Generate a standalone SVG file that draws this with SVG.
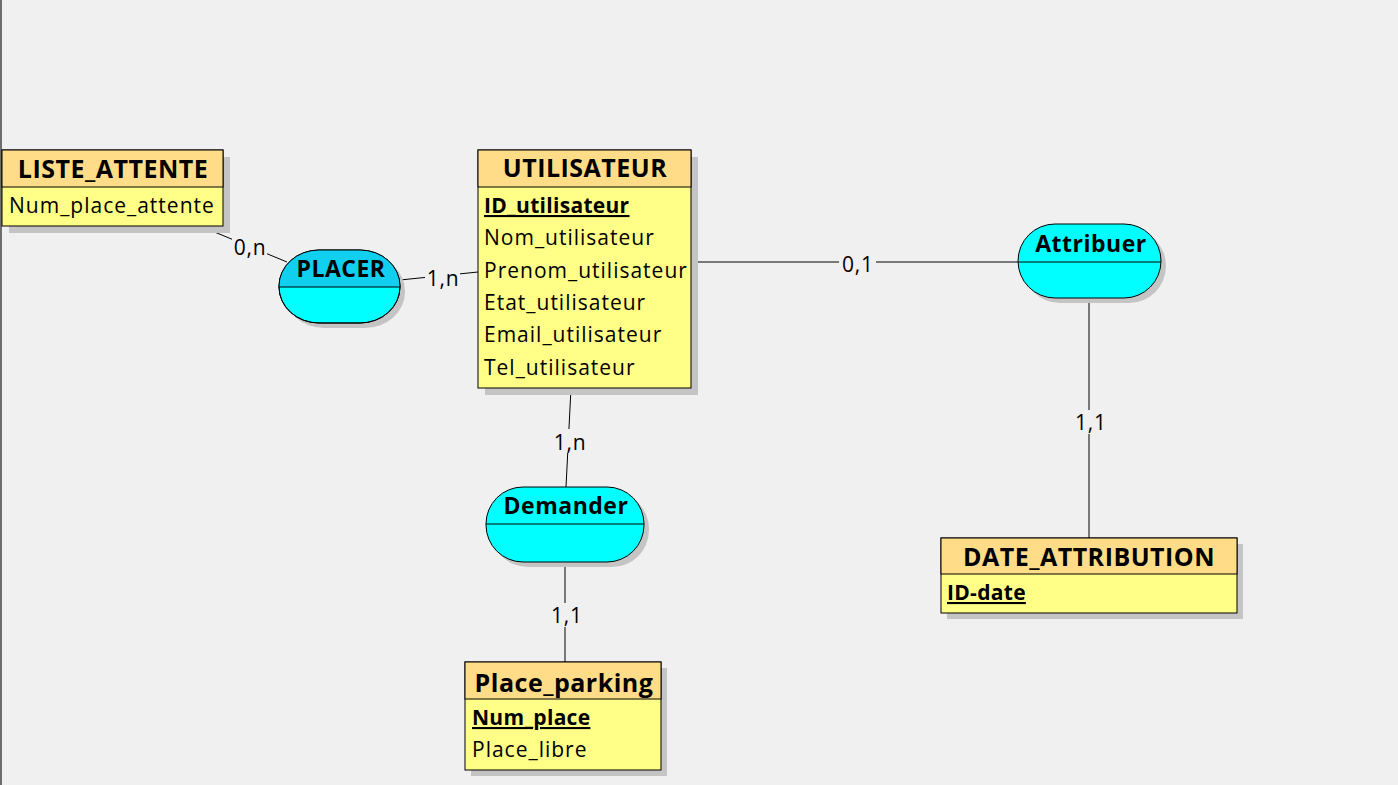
<svg xmlns="http://www.w3.org/2000/svg" width="1398" height="785" viewBox="0 0 1398 785">
<defs>
<style>
.bg{fill:#F0F0F0}
.shadow{fill:#C4C4C4}
.hdr{fill:#FFDD88;stroke:#000;stroke-width:1}
.body{fill:#FFFF88;stroke:#000;stroke-width:1}
.rel{fill:#00FFFF;stroke:#000;stroke-width:1}
.div{stroke:#000;stroke-width:1}
.conn{stroke:#000;stroke-width:1;fill:none}
.title{font-family:"Open Sans","Noto Sans","Liberation Sans",sans-serif;font-weight:bold;font-size:25px;letter-spacing:0.5px;fill:#000;text-anchor:middle}
.rtitle{font-family:"Open Sans","Noto Sans","Liberation Sans",sans-serif;font-weight:bold;font-size:23px;letter-spacing:0.5px;fill:#000;text-anchor:middle}
.attr{font-family:"Open Sans","Noto Sans","Liberation Sans",sans-serif;font-size:21px;letter-spacing:1px;fill:#000}
.key{font-family:"Open Sans","Noto Sans","Liberation Sans",sans-serif;font-size:21px;letter-spacing:0.3px;font-weight:bold;fill:#000;text-decoration:underline}
.card{font-family:"Open Sans","Noto Sans","Liberation Sans",sans-serif;font-size:21px;letter-spacing:0.8px;fill:#000;text-anchor:middle}
.lblbg{fill:#F0F0F0}
</style>
<clipPath id="placerTop"><rect x="270" y="240" width="140" height="47"/></clipPath>
</defs>
<rect class="bg" x="0" y="0" width="1398" height="785"/>
<rect x="0" y="0" width="2" height="785" fill="#6E6E6E"/>

<g id="connectors">
<line class="conn" x1="200" y1="226" x2="287" y2="262"/>
<rect class="lblbg" x="232" y="237" width="35" height="20"/>
<text class="card" x="250" y="255">0,n</text>
<line class="conn" x1="400" y1="280" x2="478" y2="272"/>
<rect class="lblbg" x="425" y="267" width="35" height="21"/>
<text class="card" x="443" y="286">1,n</text>
<line class="conn" x1="691" y1="262" x2="1018" y2="262"/>
<rect class="lblbg" x="839" y="254" width="37" height="20"/>
<text class="card" x="858" y="272">0,1</text>
<line class="conn" x1="571" y1="388" x2="566" y2="487"/>
<rect class="lblbg" x="551" y="429" width="37" height="24"/>
<text class="card" x="570" y="450">1,n</text>
<line class="conn" x1="565" y1="562" x2="565" y2="662"/>
<rect class="lblbg" x="547" y="603" width="38" height="24"/>
<text class="card" x="567" y="623">1,1</text>
<line class="conn" x1="1089" y1="298" x2="1089" y2="538"/>
<rect class="lblbg" x="1071" y="410" width="38" height="24"/>
<text class="card" x="1091" y="430">1,1</text>
</g>

<g id="LISTE_ATTENTE">
<rect class="shadow" x="9" y="157" width="221" height="76"/>
<rect class="body" x="2" y="150" width="221" height="76"/>
<rect class="hdr" x="2" y="150" width="221" height="37"/>
<text class="title" x="113" y="178">LISTE_ATTENTE</text>
<text class="attr" x="9" y="213">Num_place_attente</text>
</g>

<g id="UTILISATEUR">
<rect class="shadow" x="485" y="157" width="213" height="238"/>
<rect class="body" x="478" y="150" width="213" height="238"/>
<rect class="hdr" x="478" y="150" width="213" height="37"/>
<text class="title" x="585" y="177">UTILISATEUR</text>
<text class="key" x="484" y="213">ID_utilisateur</text>
<text class="attr" x="484" y="245">Nom_utilisateur</text>
<text class="attr" x="484" y="278">Prenom_utilisateur</text>
<text class="attr" x="484" y="310">Etat_utilisateur</text>
<text class="attr" x="484" y="342">Email_utilisateur</text>
<text class="attr" x="484" y="375">Tel_utilisateur</text>
</g>

<g id="Place_parking">
<rect class="shadow" x="471" y="668" width="196" height="108"/>
<rect class="body" x="465" y="662" width="196" height="108"/>
<rect class="hdr" x="465" y="662" width="196" height="37"/>
<text class="title" x="564" y="692">Place_parking</text>
<text class="key" x="472" y="725">Num_place</text>
<text class="attr" x="472" y="757">Place_libre</text>
</g>

<g id="DATE_ATTRIBUTION">
<rect class="shadow" x="947" y="544" width="296" height="75"/>
<rect class="body" x="941" y="538" width="296" height="75"/>
<rect class="hdr" x="941" y="538" width="296" height="36"/>
<text class="title" x="1089" y="566">DATE_ATTRIBUTION</text>
<text class="key" x="947" y="600">ID-date</text>
</g>

<g id="PLACER">
<rect class="shadow" x="284" y="255" width="121" height="73" rx="40" ry="36"/>
<rect class="rel" x="279" y="250" width="121" height="73" rx="40" ry="36"/>
<rect x="279" y="250" width="121" height="73" rx="40" ry="36" fill="#10CFEF" clip-path="url(#placerTop)"/>
<rect x="279" y="250" width="121" height="73" rx="40" ry="36" fill="none" stroke="#000"/>
<line class="div" x1="279" y1="287" x2="400" y2="287"/>
<text class="rtitle" x="341" y="277">PLACER</text>
</g>

<g id="Attribuer">
<rect class="shadow" x="1023" y="229" width="143" height="74" rx="37" ry="37"/>
<rect class="rel" x="1018" y="224" width="143" height="74" rx="37" ry="37"/>
<line class="div" x1="1018" y1="262" x2="1161" y2="262"/>
<text class="rtitle" x="1091" y="252">Attribuer</text>
</g>

<g id="Demander">
<rect class="shadow" x="491" y="492" width="158" height="75" rx="37" ry="37"/>
<rect class="rel" x="486" y="487" width="158" height="75" rx="37" ry="37"/>
<line class="div" x1="486" y1="524" x2="644" y2="524"/>
<text class="rtitle" x="566" y="514">Demander</text>
</g>
</svg>
